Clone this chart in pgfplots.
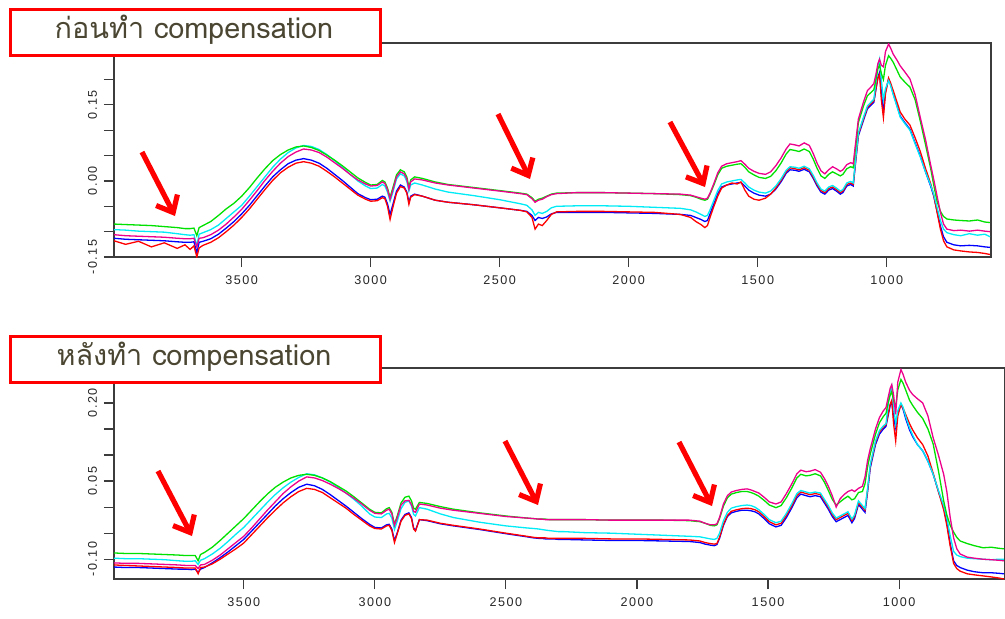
\documentclass[border=0pt]{standalone}
\usepackage{fontspec}
\usepackage{pgfplots}
\usepackage{pgfplotstable}
\pgfplotsset{compat=1.18}
\usetikzlibrary{arrows.meta}
\newfontfamily\thaifont[Script=Thai]{Loma}
\newfontfamily\tickfont[LetterSpace=12]{Liberation Sans}
\definecolor{axisgray}{RGB}{60,60,60}
\definecolor{titletext}{RGB}{74,70,50}
\definecolor{specgreen}{RGB}{0,225,0}
\definecolor{speccyan}{RGB}{0,235,245}

% before compensation
\pgfplotstableread{
wn r b c g m
3995 -0.118 -0.113 -0.096 -0.085 -0.106
3950 -0.125 -0.115 -0.097 -0.086 -0.108
3900 -0.119 -0.116 -0.099 -0.087 -0.109
3850 -0.130 -0.117 -0.100 -0.088 -0.110
3800 -0.122 -0.118 -0.101 -0.090 -0.111
3750 -0.133 -0.120 -0.104 -0.092 -0.113
3720 -0.126 -0.121 -0.106 -0.094 -0.114
3700 -0.135 -0.121 -0.107 -0.094 -0.114
3685 -0.128 -0.120 -0.106 -0.093 -0.113
3674 -0.150 -0.142 -0.128 -0.108 -0.130
3665 -0.132 -0.121 -0.105 -0.092 -0.113
3650 -0.127 -0.119 -0.102 -0.088 -0.112
3620 -0.121 -0.114 -0.096 -0.080 -0.106
3590 -0.112 -0.105 -0.087 -0.068 -0.097
3560 -0.100 -0.093 -0.074 -0.055 -0.085
3530 -0.087 -0.080 -0.061 -0.044 -0.071
3500 -0.072 -0.065 -0.048 -0.030 -0.056
3470 -0.055 -0.048 -0.030 -0.013 -0.038
3440 -0.036 -0.029 -0.011 0.006 -0.019
3410 -0.017 -0.010 0.008 0.024 0.001
3380 0.001 0.008 0.027 0.040 0.019
3350 0.016 0.022 0.043 0.052 0.035
3320 0.027 0.034 0.056 0.061 0.048
3290 0.035 0.041 0.065 0.067 0.057
3260 0.038 0.044 0.070 0.069 0.063
3230 0.035 0.041 0.068 0.066 0.061
3200 0.029 0.035 0.062 0.060 0.056
3170 0.019 0.025 0.052 0.051 0.047
3140 0.008 0.013 0.040 0.041 0.036
3110 -0.004 0.001 0.027 0.030 0.025
3080 -0.016 -0.012 0.013 0.018 0.013
3050 -0.028 -0.025 0.000 0.006 0.002
3020 -0.036 -0.033 -0.010 -0.003 -0.006
3000 -0.040 -0.037 -0.015 -0.008 -0.010
2975 -0.039 -0.036 -0.014 -0.007 -0.009
2955 -0.033 -0.030 -0.007 0.001 -0.002
2945 -0.035 -0.032 -0.010 -0.002 -0.005
2935 -0.050 -0.045 -0.022 -0.014 -0.017
2925 -0.076 -0.066 -0.040 -0.032 -0.036
2915 -0.054 -0.048 -0.024 -0.015 -0.019
2900 -0.024 -0.020 0.004 0.012 0.008
2885 -0.011 -0.008 0.014 0.022 0.018
2870 -0.014 -0.012 0.010 0.018 0.014
2860 -0.024 -0.022 -0.001 0.008 0.004
2852 -0.046 -0.042 -0.020 -0.012 -0.016
2845 -0.032 -0.030 -0.008 0.002 -0.002
2830 -0.027 -0.026 -0.004 0.008 0.004
2800 -0.030 -0.030 -0.008 0.005 0.002
2750 -0.038 -0.038 -0.016 -0.002 -0.004
2700 -0.042 -0.042 -0.022 -0.007 -0.008
2600 -0.047 -0.047 -0.029 -0.013 -0.014
2500 -0.053 -0.053 -0.037 -0.019 -0.020
2420 -0.058 -0.058 -0.045 -0.024 -0.025
2395 -0.061 -0.060 -0.048 -0.026 -0.027
2375 -0.072 -0.068 -0.057 -0.033 -0.035
2363 -0.095 -0.078 -0.068 -0.040 -0.042
2350 -0.085 -0.072 -0.062 -0.036 -0.038
2335 -0.088 -0.074 -0.064 -0.034 -0.036
2318 -0.078 -0.071 -0.060 -0.030 -0.031
2300 -0.066 -0.065 -0.053 -0.026 -0.027
2280 -0.061 -0.062 -0.050 -0.024 -0.025
2200 -0.060 -0.062 -0.049 -0.023 -0.023
2100 -0.060 -0.062 -0.049 -0.023 -0.023
2000 -0.061 -0.063 -0.050 -0.024 -0.024
1900 -0.062 -0.064 -0.052 -0.025 -0.025
1800 -0.066 -0.066 -0.054 -0.027 -0.026
1760 -0.072 -0.068 -0.057 -0.029 -0.028
1740 -0.080 -0.072 -0.061 -0.032 -0.031
1720 -0.086 -0.076 -0.066 -0.036 -0.034
1705 -0.092 -0.080 -0.070 -0.038 -0.036
1695 -0.088 -0.078 -0.068 -0.036 -0.034
1685 -0.072 -0.065 -0.057 -0.026 -0.024
1670 -0.050 -0.045 -0.038 -0.008 -0.005
1655 -0.030 -0.025 -0.019 0.012 0.016
1640 -0.014 -0.012 -0.006 0.025 0.029
1620 -0.008 -0.008 -0.002 0.029 0.034
1600 -0.004 -0.006 0.000 0.031 0.036
1580 -0.006 -0.004 0.002 0.033 0.038
1565 -0.002 -0.003 0.003 0.034 0.040
1550 -0.018 -0.010 -0.004 0.027 0.033
1535 -0.030 -0.018 -0.012 0.018 0.025
1515 -0.036 -0.024 -0.018 0.012 0.019
1495 -0.038 -0.028 -0.022 0.007 0.015
1470 -0.034 -0.030 -0.024 0.005 0.013
1450 -0.026 -0.026 -0.020 0.009 0.018
1430 -0.014 -0.016 -0.010 0.020 0.030
1410 0.001 -0.002 0.004 0.035 0.045
1390 0.018 0.015 0.021 0.053 0.063
1375 0.026 0.022 0.028 0.062 0.073
1355 0.024 0.021 0.027 0.060 0.071
1340 0.022 0.019 0.025 0.058 0.069
1320 0.026 0.023 0.029 0.063 0.075
1300 0.021 0.018 0.024 0.058 0.070
1285 0.008 0.005 0.011 0.043 0.054
1270 -0.007 -0.010 -0.004 0.025 0.035
1255 -0.019 -0.022 -0.016 0.010 0.020
1240 -0.023 -0.026 -0.020 0.005 0.014
1225 -0.015 -0.018 -0.012 0.013 0.022
1210 -0.012 -0.015 -0.009 0.018 0.028
1195 -0.017 -0.020 -0.014 0.014 0.024
1180 -0.023 -0.026 -0.020 0.010 0.019
1170 -0.020 -0.023 -0.017 0.013 0.022
1155 -0.007 -0.010 -0.004 0.024 0.032
1140 -0.004 -0.007 -0.001 0.028 0.036
1130 -0.007 -0.010 -0.004 0.026 0.034
1120 0.043 0.040 0.046 0.070 0.078
1110 0.092 0.089 0.095 0.115 0.122
1090 0.123 0.120 0.126 0.148 0.156
1075 0.145 0.142 0.148 0.168 0.178
1060 0.153 0.150 0.156 0.175 0.186
1050 0.158 0.155 0.161 0.180 0.192
1042 0.182 0.180 0.195 0.200 0.210
1034 0.203 0.205 0.228 0.222 0.232
1028 0.210 0.214 0.240 0.228 0.240
1021 0.160 0.175 0.200 0.212 0.228
1013 0.125 0.135 0.160 0.200 0.225
1005 0.172 0.175 0.182 0.228 0.255
993 0.203 0.201 0.198 0.247 0.270
985 0.193 0.190 0.188 0.242 0.262
975 0.178 0.172 0.170 0.234 0.250
960 0.155 0.148 0.146 0.218 0.238
948 0.136 0.128 0.126 0.205 0.227
930 0.122 0.115 0.113 0.195 0.215
910 0.110 0.102 0.100 0.185 0.201
890 0.085 0.075 0.073 0.160 0.170
870 0.058 0.049 0.047 0.118 0.125
850 0.025 0.018 0.018 0.072 0.082
830 -0.005 -0.010 -0.008 0.025 0.032
818 -0.028 -0.030 -0.026 -0.008 0.003
805 -0.062 -0.060 -0.052 -0.040 -0.030
792 -0.095 -0.089 -0.078 -0.060 -0.062
780 -0.118 -0.110 -0.095 -0.070 -0.085
767 -0.130 -0.121 -0.102 -0.075 -0.095
740 -0.136 -0.126 -0.106 -0.077 -0.098
713 -0.138 -0.128 -0.108 -0.078 -0.097
680 -0.140 -0.127 -0.104 -0.079 -0.099
648 -0.141 -0.128 -0.107 -0.077 -0.097
620 -0.143 -0.130 -0.105 -0.081 -0.099
600 -0.145 -0.131 -0.110 -0.082 -0.100
}\beforetab

% after compensation
\pgfplotstableread{
wn r b c g m
3995 -0.111 -0.115 -0.098 -0.088 -0.107
3950 -0.112 -0.116 -0.099 -0.089 -0.108
3900 -0.113 -0.116 -0.099 -0.089 -0.108
3850 -0.114 -0.117 -0.100 -0.090 -0.109
3800 -0.115 -0.118 -0.101 -0.091 -0.110
3750 -0.116 -0.119 -0.103 -0.092 -0.111
3720 -0.117 -0.119 -0.104 -0.093 -0.112
3700 -0.117 -0.120 -0.104 -0.093 -0.112
3685 -0.117 -0.119 -0.103 -0.093 -0.112
3674 -0.128 -0.125 -0.110 -0.103 -0.118
3665 -0.116 -0.119 -0.102 -0.091 -0.111
3650 -0.115 -0.116 -0.099 -0.087 -0.110
3620 -0.109 -0.107 -0.090 -0.077 -0.102
3590 -0.100 -0.097 -0.079 -0.064 -0.092
3560 -0.090 -0.086 -0.066 -0.050 -0.080
3530 -0.080 -0.074 -0.052 -0.036 -0.068
3500 -0.069 -0.062 -0.039 -0.022 -0.056
3470 -0.053 -0.046 -0.023 -0.006 -0.040
3440 -0.037 -0.030 -0.007 0.010 -0.023
3410 -0.021 -0.014 0.009 0.025 -0.006
3380 -0.006 0.002 0.024 0.038 0.010
3350 0.008 0.016 0.037 0.048 0.026
3320 0.020 0.028 0.048 0.056 0.039
3290 0.030 0.038 0.057 0.061 0.050
3260 0.036 0.044 0.064 0.063 0.058
3230 0.034 0.041 0.062 0.061 0.056
3200 0.028 0.034 0.056 0.056 0.051
3170 0.018 0.024 0.048 0.049 0.044
3140 0.008 0.013 0.038 0.040 0.036
3110 -0.002 0.002 0.027 0.031 0.027
3080 -0.014 -0.010 0.015 0.020 0.017
3050 -0.025 -0.022 0.002 0.008 0.006
3020 -0.036 -0.033 -0.013 -0.004 -0.006
3000 -0.041 -0.039 -0.019 -0.010 -0.012
2975 -0.042 -0.040 -0.020 -0.011 -0.013
2955 -0.036 -0.034 -0.013 -0.003 -0.006
2945 -0.035 -0.033 -0.012 -0.001 -0.004
2935 -0.045 -0.042 -0.021 -0.010 -0.013
2925 -0.068 -0.064 -0.043 -0.033 -0.035
2915 -0.052 -0.050 -0.028 -0.018 -0.021
2900 -0.027 -0.025 -0.003 0.008 0.004
2885 -0.016 -0.014 0.009 0.019 0.012
2870 -0.013 -0.011 0.012 0.021 0.013
2860 -0.022 -0.020 0.002 0.012 0.005
2852 -0.042 -0.040 -0.014 -0.002 -0.008
2845 -0.046 -0.045 -0.017 -0.004 -0.010
2830 -0.024 -0.024 -0.001 0.009 0.006
2800 -0.025 -0.026 -0.004 0.007 0.004
2750 -0.031 -0.032 -0.013 0.001 -0.002
2700 -0.035 -0.036 -0.020 -0.004 -0.006
2600 -0.042 -0.043 -0.029 -0.011 -0.012
2500 -0.050 -0.051 -0.036 -0.017 -0.018
2420 -0.056 -0.057 -0.040 -0.021 -0.021
2395 -0.058 -0.059 -0.041 -0.022 -0.022
2375 -0.059 -0.060 -0.042 -0.023 -0.023
2363 -0.059 -0.060 -0.043 -0.023 -0.023
2350 -0.059 -0.061 -0.044 -0.023 -0.024
2335 -0.060 -0.061 -0.045 -0.024 -0.024
2318 -0.060 -0.061 -0.046 -0.024 -0.024
2300 -0.060 -0.062 -0.047 -0.024 -0.024
2280 -0.060 -0.062 -0.047 -0.024 -0.024
2200 -0.060 -0.063 -0.049 -0.024 -0.024
2100 -0.061 -0.064 -0.050 -0.025 -0.025
2000 -0.061 -0.064 -0.052 -0.025 -0.025
1900 -0.062 -0.065 -0.054 -0.025 -0.025
1800 -0.063 -0.066 -0.056 -0.026 -0.025
1760 -0.065 -0.068 -0.057 -0.028 -0.027
1740 -0.068 -0.071 -0.059 -0.031 -0.031
1720 -0.070 -0.073 -0.061 -0.035 -0.034
1705 -0.071 -0.074 -0.062 -0.036 -0.034
1695 -0.070 -0.072 -0.060 -0.034 -0.032
1685 -0.058 -0.060 -0.050 -0.022 -0.020
1670 -0.033 -0.035 -0.026 0.002 0.006
1655 -0.016 -0.018 -0.010 0.018 0.022
1640 -0.008 -0.011 -0.002 0.025 0.029
1620 -0.005 -0.008 0.001 0.028 0.032
1600 -0.003 -0.006 0.003 0.030 0.034
1580 -0.002 -0.006 0.004 0.030 0.035
1565 -0.003 -0.007 0.003 0.028 0.033
1550 -0.005 -0.009 0.000 0.025 0.030
1535 -0.009 -0.013 -0.005 0.021 0.027
1515 -0.018 -0.022 -0.014 0.013 0.019
1495 -0.028 -0.032 -0.024 0.004 0.010
1470 -0.034 -0.038 -0.030 -0.001 0.006
1450 -0.031 -0.035 -0.027 0.003 0.010
1430 -0.016 -0.020 -0.012 0.018 0.026
1410 0.002 -0.002 0.006 0.036 0.044
1390 0.022 0.018 0.026 0.056 0.064
1375 0.029 0.025 0.032 0.063 0.071
1355 0.026 0.022 0.029 0.060 0.068
1340 0.024 0.020 0.027 0.061 0.069
1320 0.026 0.022 0.029 0.064 0.072
1300 0.024 0.020 0.027 0.060 0.067
1285 0.012 0.008 0.015 0.048 0.055
1270 0.000 -0.004 0.003 0.032 0.040
1255 -0.014 -0.018 -0.011 0.015 0.022
1240 -0.024 -0.028 -0.021 0.004 0.000
1225 -0.020 -0.024 -0.017 0.010 0.016
1210 -0.016 -0.020 -0.013 0.016 0.024
1195 -0.012 -0.016 -0.009 0.021 0.030
1180 -0.026 -0.030 -0.023 0.014 0.033
1170 -0.018 -0.022 -0.015 0.016 0.030
1155 0.008 0.005 0.012 0.028 0.036
1140 0.000 -0.004 0.003 0.030 0.040
1130 -0.006 -0.010 -0.003 0.045 0.058
1120 0.034 0.030 0.037 0.078 0.090
1110 0.079 0.075 0.082 0.102 0.112
1090 0.124 0.120 0.127 0.140 0.150
1075 0.144 0.140 0.147 0.162 0.172
1060 0.154 0.150 0.156 0.174 0.185
1050 0.158 0.155 0.160 0.180 0.191
1042 0.178 0.175 0.195 0.200 0.210
1034 0.198 0.195 0.222 0.215 0.228
1028 0.205 0.203 0.232 0.222 0.235
1021 0.160 0.172 0.195 0.205 0.215
1013 0.127 0.152 0.160 0.192 0.178
1005 0.175 0.180 0.185 0.225 0.240
993 0.197 0.197 0.200 0.245 0.264
985 0.190 0.188 0.192 0.238 0.255
975 0.178 0.170 0.174 0.225 0.240
960 0.160 0.148 0.152 0.205 0.224
948 0.148 0.135 0.138 0.195 0.216
930 0.133 0.120 0.120 0.182 0.208
910 0.120 0.108 0.108 0.170 0.200
890 0.098 0.088 0.088 0.150 0.175
870 0.065 0.063 0.063 0.121 0.133
850 0.030 0.030 0.032 0.070 0.100
830 -0.005 -0.001 0.003 0.012 0.063
818 -0.035 -0.030 -0.020 -0.015 0.030
805 -0.075 -0.070 -0.055 -0.035 -0.020
792 -0.108 -0.103 -0.085 -0.048 -0.059
780 -0.118 -0.112 -0.092 -0.058 -0.080
767 -0.123 -0.116 -0.095 -0.065 -0.090
740 -0.128 -0.121 -0.098 -0.070 -0.096
713 -0.130 -0.124 -0.099 -0.074 -0.098
680 -0.132 -0.126 -0.100 -0.078 -0.100
648 -0.134 -0.126 -0.101 -0.077 -0.101
620 -0.136 -0.127 -0.100 -0.079 -0.102
600 -0.138 -0.128 -0.100 -0.080 -0.103
}\aftertab

\pgfplotsset{spectrum/.style={
  scale only axis, x dir=reverse, xmin=596, xmax=3995,
  axis line style={axisgray, line width=0.6pt},
  tick style={axisgray, line width=0.6pt},
  major tick length=5pt, tick align=outside,
  xtick pos=left, ytick pos=left,
  xtick={1000,1500,2000,2500,3000,3500},
  xticklabels={1000,1500,2000,2500,3000,3500},
  ticklabel style={font=\tickfont\fontsize{6.3}{7}\selectfont, text=black!85},
  yticklabel style={rotate=90, anchor=south},
  xticklabel style={anchor=north, yshift=-1pt},
  every axis plot/.append style={line width=0.65pt, no markers},
}}

\begin{document}
\begin{tikzpicture}
\useasboundingbox (0pt,0pt) rectangle (502.5pt,-309pt);

\begin{axis}[spectrum, at={(57pt,-128.5pt)}, anchor=south west,
  width=438.5pt, height=107pt, ymin=-0.15, ymax=0.272,
  ytick={-0.15,-0.10,-0.05,0,0.05,0.10,0.15,0.20},
  yticklabels={-0.15,,,0.00,,,0.15,}]
\addplot[blue] table[x=wn, y=b] {\beforetab};
\addplot[red] table[x=wn, y=r] {\beforetab};
\addplot[speccyan] table[x=wn, y=c] {\beforetab};
\addplot[specgreen] table[x=wn, y=g] {\beforetab};
\addplot[magenta] table[x=wn, y=m] {\beforetab};
\end{axis}

\begin{axis}[spectrum, at={(57pt,-289.5pt)}, anchor=south west,
  width=445.5pt, height=105.5pt, ymin=-0.138, ymax=0.267,
  ytick={-0.10,-0.05,0,0.05,0.10,0.15,0.20},
  yticklabels={-0.10,,,0.05,,,0.20}]
\addplot[blue] table[x=wn, y=b] {\aftertab};
\addplot[red] table[x=wn, y=r] {\aftertab};
\addplot[speccyan] table[x=wn, y=c] {\aftertab};
\addplot[specgreen] table[x=wn, y=g] {\aftertab};
\addplot[magenta] table[x=wn, y=m] {\aftertab};
\end{axis}

% title boxes and arrows, in pixel units of the reference
\begin{scope}[x=0.5pt, y=-0.5pt]
\draw[red, line width=1.5pt, fill=white] (10,9) rectangle (380,55);
\draw[red, line width=1.5pt, fill=white] (10,336) rectangle (380,382);
\node[text=titletext, font=\thaifont\fontsize{14.4}{16}\selectfont] at (194,30) {ก่อนทำ compensation};
\node[text=titletext, font=\thaifont\fontsize{14.4}{16}\selectfont] at (194,357) {หลังทำ compensation};
\tikzset{redarrow/.style={red, line width=2.6pt, -{Straight Barb[length=7pt, width=12pt]}}}
\draw[redarrow] (142,152) -- (175,216);
\draw[redarrow] (498,114) -- (530,179);
\draw[redarrow] (670,122) -- (705,187);
\draw[redarrow] (158,471) -- (192,536);
\draw[redarrow] (505,441) -- (538,505);
\draw[redarrow] (679,442) -- (712,506);
\end{scope}
\end{tikzpicture}
\end{document}
